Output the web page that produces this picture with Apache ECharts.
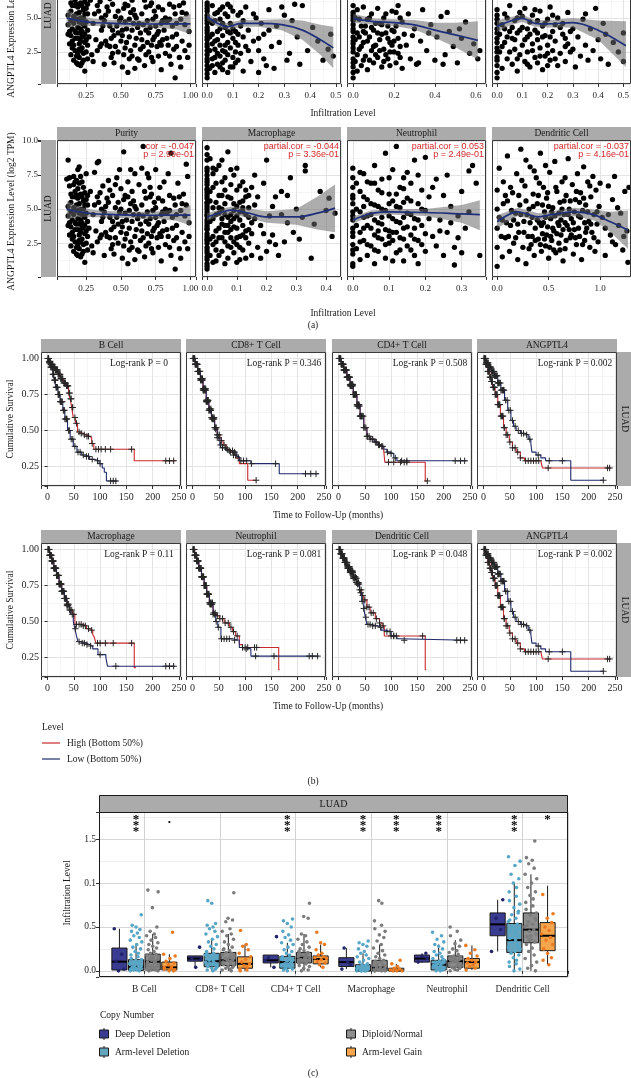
<!DOCTYPE html>
<html>
<head>
<meta charset="utf-8">
<script src="https://cdn.jsdelivr.net/npm/echarts@6.0.0/dist/echarts.min.js"></script>
<style>
html, body { margin: 0; padding: 0; background: #fff; }
#chart { width: 631px; height: 1078px; }
</style>
</head>
<body>
<div id="chart"></div>
<script>
const SERIF = "'Liberation Serif','DejaVu Serif',serif"
const SANS = "'Liberation Sans','DejaVu Sans',sans-serif"

// ---------- (a) expression vs infiltration ----------
const purityPts = [
  [0.12,8.6],[0.13,7.3],[0.11,7.2],[0.14,6.1],[0.12,5.2],[0.13,4.0],[0.12,3.8],[0.14,2.3],[0.15,3.3],[0.16,4.6],
  [0.16,6.8],[0.17,5.9],[0.17,2.6],[0.18,1.7],[0.18,3.9],[0.18,4.9],[0.19,6.5],[0.19,7.9],[0.2,8.1],[0.2,5.4],
  [0.2,3.1],[0.2,2.1],[0.21,1.5],[0.21,4.2],[0.21,6.1],[0.22,7.0],[0.22,3.6],[0.22,2.8],[0.23,5.0],[0.23,1.9],
  [0.23,6.6],[0.24,1.1],[0.24,4.4],[0.24,3.2],[0.25,5.7],[0.25,7.6],[0.25,2.5],[0.26,4.1],[0.26,6.0],[0.26,3.0],
  [0.14,5.5],[0.15,4.2],[0.16,3.0],[0.17,4.0],[0.18,5.3],[0.19,3.5],[0.19,2.4],[0.2,4.7],[0.21,3.3],[0.22,5.9],
  [0.23,4.6],[0.24,5.3],[0.17,6.3],[0.18,7.1],[0.2,6.9],[0.21,2.6],[0.22,4.0],[0.16,1.9],[0.19,1.6],[0.23,3.7],
  [0.28,6.3],[0.29,2.3],[0.3,4.6],[0.31,7.7],[0.32,3.4],[0.33,8.4],[0.34,8.5],[0.34,5.5],[0.35,2.9],[0.36,4.1],
  [0.37,6.7],[0.38,1.6],[0.39,5.2],[0.4,3.0],[0.41,7.1],[0.42,4.4],[0.43,2.1],[0.44,6.0],[0.45,3.7],[0.46,5.1],
  [0.47,7.3],[0.48,2.5],[0.49,4.8],[0.5,6.5],[0.5,3.3],[0.51,1.4],[0.52,9.2],[0.52,5.7],[0.53,2.8],[0.54,4.2],
  [0.55,1.0],[0.55,7.0],[0.56,3.6],[0.57,5.4],[0.58,2.2],[0.58,6.3],[0.59,4.6],[0.6,1.3],[0.6,7.6],[0.6,3.0],
  [0.3,1.8],[0.33,5.9],[0.36,3.1],[0.4,5.8],[0.43,3.5],[0.45,1.7],[0.47,4.4],[0.49,7.9],[0.51,4.1],[0.53,6.0],
  [0.56,4.9],[0.57,2.6],[0.38,4.8],[0.42,6.4],[0.46,2.9],[0.54,3.2],[0.48,5.5],[0.35,6.2],[0.59,5.6],[0.44,2.4],
  [0.61,5.0],[0.62,2.0],[0.63,6.8],[0.64,3.9],[0.65,8.0],[0.66,9.6],[0.66,4.5],[0.67,1.5],[0.68,5.8],[0.69,3.2],
  [0.7,7.3],[0.7,2.5],[0.71,4.3],[0.72,6.1],[0.73,1.8],[0.74,3.6],[0.75,7.9],[0.75,5.1],[0.76,2.9],[0.77,4.0],
  [0.78,6.6],[0.79,1.2],[0.8,3.4],[0.8,5.6],[0.81,7.0],[0.82,2.4],[0.83,4.7],[0.84,3.0],[0.85,6.0],[0.86,9.1],
  [0.86,1.6],[0.87,4.4],[0.88,2.7],[0.89,0.6],[0.89,5.3],[0.9,3.8],[0.91,6.9],[0.92,2.1],[0.93,1.4],[0.93,4.9],
  [0.94,3.3],[0.95,6.1],[0.96,2.6],[0.97,8.3],[0.97,5.3],[0.98,7.4],[0.98,2.1],[0.99,4.0],[0.99,3.0],[0.96,4.5],
  [0.62,4.3],[0.64,2.7],[0.67,6.3],[0.69,4.8],[0.72,3.0],[0.74,5.5],[0.77,2.2],[0.79,4.6],[0.82,5.0],[0.84,7.6],
  [0.87,3.6],[0.9,4.6],[0.92,5.9],[0.65,3.4],[0.71,5.9],[0.76,3.8],[0.81,4.1],[0.68,2.3],[0.73,4.9],[0.78,3.2],
  [0.13,6.7],[0.14,4.8],[0.15,5.9],[0.15,2.8],[0.16,7.4],[0.16,5.1],[0.17,3.5],[0.17,7.0],[0.18,2.2],[0.18,6.0],
  [0.19,4.3],[0.19,5.8],[0.2,2.7],[0.2,3.9],[0.21,5.0],[0.21,7.4],[0.22,1.7],[0.22,4.6],[0.23,2.4],[0.23,5.6],
  [0.24,3.8],[0.24,6.2],[0.25,4.7],[0.25,3.4],[0.26,5.3],[0.26,2.0],[0.12,4.5],[0.13,3.1],[0.14,3.7],[0.27,3.6],
  [0.31,5.3],[0.33,2.6],[0.37,4.4],[0.39,3.3],[0.41,5.5],[0.44,4.1],[0.46,6.8],[0.48,3.9],[0.5,5.0],[0.52,2.3],
  [0.53,4.7],[0.55,5.9],[0.56,2.0],[0.58,4.1],[0.6,5.2],[0.61,3.5],[0.63,4.6],[0.65,5.3],[0.66,2.9],[0.68,4.1],
  [0.7,3.9],[0.71,6.6],[0.73,3.4],[0.75,4.4],[0.77,5.8],[0.79,3.0],[0.8,4.8],[0.83,3.5],[0.85,4.9],[0.88,5.8],
  [0.9,2.9],[0.94,5.4],[0.63,1.9],[0.72,2.1],[0.51,3.7],[0.42,2.9],[0.36,5.0],[0.69,7.6],[0.57,7.9],[0.85,2.2]
]
const bCellPts = [
  [0,0.6],[0,1.2],[0,1.8],[0,2.3],[0,2.9],[0,3.4],[0,3.9],[0,4.3],[0,4.8],[0,5.2],[0,5.7],[0,6.1],[0,1.5],[0,2.6],
  [0,3.1],[0,4.1],[0,5.0],[0,5.5],[0.01,1.3],[0.01,3.6],[0.02,2.0],[0.02,4.6],[0.02,5.9],[0.03,1.0],[0.03,2.7],
  [0.03,3.3],[0.04,4.0],[0.04,5.4],[0.04,1.6],[0.05,2.2],[0.05,3.0],[0.05,4.9],[0.06,1.2],[0.06,3.7],[0.06,5.8],
  [0.07,2.5],[0.07,4.3],[0.07,1.9],[0.08,3.2],[0.08,5.1],[0.08,6.0],[0.09,1.4],[0.09,2.8],[0.09,4.6],[0.1,3.5],
  [0.1,5.5],[0.1,2.1],[0.11,4.0],[0.11,1.7],[0.12,3.0],[0.12,5.2],[0.13,2.4],[0.13,4.4],[0.14,3.6],[0.14,1.1],
  [0.15,5.8],[0.15,2.9],[0.03,4.8],[0.05,5.6],[0.06,2.6],[0.08,1.0],[0.1,4.2],[0.12,3.8],[0.02,3.1],[0.04,2.4],
  [0.07,5.3],[0.09,3.9],[0.11,2.5],[0.16,4.1],[0.17,1.8],[0.18,3.3],[0.19,5.0],[0.2,1.0],[0.2,2.6],[0.21,4.6],
  [0.22,3.8],[0.23,1.5],[0.24,5.6],[0.25,2.9],[0.26,1.3],[0.27,4.4],[0.28,3.2],[0.3,5.2],[0.31,1.9],[0.32,2.4],
  [0.33,4.8],[0.35,3.6],[0.36,1.6],[0.37,5.9],[0.39,2.6],[0.41,4.3],[0.43,3.3],[0.45,1.9],[0.47,2.7],[0.48,3.8],
  [0.49,2.2],[0.29,5.8],[0.34,6.0],
  [0,0.9],[0,2.0],[0,3.6],[0,4.6],[0,5.9],[0.01,2.6],[0.01,4.8],[0.02,1.5],[0.02,3.8],[0.03,5.3],[0.04,3.4],
  [0.05,4.2],[0.05,1.4],[0.06,4.6],[0.07,3.0],[0.08,2.3],[0.08,4.0],[0.09,5.8],[0.1,1.4],[0.11,3.2],[0.12,1.9],
  [0.13,5.4],[0.14,4.8],[0.16,2.6],[0.18,5.3],[0.2,3.5],[0.22,2.0],[0.24,4.1],[0.03,2.1],[0.06,1.7]
]
const cd8Pts = [
  [0,0.6],[0,1.4],[0,2.0],[0,2.5],[0,3.1],[0,3.6],[0,4.0],[0,4.5],[0,5.0],[0,5.4],[0,5.9],[0,1.0],[0,3.3],[0,4.8],
  [0.01,1.8],[0.02,3.9],[0.02,5.6],[0.03,2.7],[0.04,1.5],[0.04,4.4],[0.05,3.2],[0.05,5.8],[0.06,2.2],[0.07,4.9],
  [0.07,1.2],[0.08,3.6],[0.09,2.6],[0.09,5.3],[0.1,4.1],[0.1,1.7],[0.11,3.0],[0.12,5.7],[0.12,2.1],[0.13,4.6],
  [0.13,3.4],[0.14,1.4],[0.15,2.7],[0.15,5.0],[0.16,3.9],[0.17,2.0],[0.17,4.4],[0.18,1.5],[0.18,3.2],[0.19,5.5],
  [0.2,2.5],[0.2,4.0],[0.21,1.7],[0.22,3.5],[0.22,5.9],[0.23,2.9],[0.24,4.7],[0.24,1.3],[0.25,3.8],[0.03,4.9],
  [0.06,3.9],[0.08,5.0],[0.11,4.6],[0.14,3.8],[0.16,2.3],[0.19,3.0],[0.21,4.4],[0.23,2.1],[0.05,1.9],[0.1,2.9],
  [0.27,5.3],[0.28,2.0],[0.3,4.2],[0.31,1.6],[0.33,3.3],[0.34,5.6],[0.36,2.6],[0.38,4.5],[0.4,1.9],[0.41,3.6],
  [0.43,5.1],[0.45,2.3],[0.47,4.0],[0.49,2.9],[0.51,1.7],[0.53,3.5],[0.55,4.7],[0.57,2.4],[0.59,3.1],[0.61,2.0],
  [0.62,2.6],[0.32,1.7],[0.37,3.9],[0.44,1.6],[0.46,5.4],[0.52,4.2],
  [0,1.7],[0,2.8],[0,4.2],[0,5.2],[0.01,3.4],[0.01,5.0],[0.02,2.3],[0.03,3.6],[0.04,2.9],[0.06,4.4],[0.07,3.3],
  [0.08,1.9],[0.09,4.3],[0.11,2.3],[0.12,3.9],[0.14,4.5],[0.15,1.8],[0.16,5.3],[0.18,2.5],[0.19,4.1],[0.2,3.3],
  [0.22,2.4],[0.23,5.0],[0.26,3.0],[0.29,3.7],[0.02,1.1],[0.05,4.0],[0.13,2.6],[0.17,3.5],[0.21,5.4]
]
const cd4Pts = [
  [0,0.6],[0,1.5],[0,2.1],[0,2.8],[0,3.5],[0,4.2],[0,4.9],[0,5.6],[0,1.9],[0,3.9],
  [0.01,2.5],[0.02,4.5],[0.02,1.3],[0.03,3.2],[0.03,5.3],[0.04,2.0],[0.05,4.0],[0.05,5.9],[0.06,1.6],[0.06,3.5],
  [0.07,2.7],[0.07,4.8],[0.08,1.1],[0.08,3.9],[0.09,5.4],[0.09,2.3],[0.1,4.3],[0.1,3.0],[0.11,1.8],[0.11,5.7],
  [0.12,3.6],[0.12,2.5],[0.13,4.7],[0.13,1.4],[0.14,3.1],[0.14,5.2],[0.15,2.1],[0.15,4.1],[0.16,3.4],[0.16,1.7],
  [0.17,5.5],[0.17,2.8],[0.18,4.4],[0.18,1.2],[0.19,3.7],[0.19,2.2],[0.2,4.9],[0.2,3.0],[0.21,1.9],[0.21,5.8],
  [0.22,2.6],[0.22,4.0],[0.23,3.3],[0.24,1.5],[0.24,5.0],[0.25,2.4],[0.26,3.8],[0.26,4.6],[0.27,1.8],[0.28,3.1],
  [0.28,5.4],[0.29,2.5],[0.3,4.2],[0.04,3.6],[0.08,5.0],[0.12,4.2],[0.16,4.8],[0.2,1.5],[0.23,4.5],[0.27,2.9],
  [0.31,1.4],[0.32,3.6],[0.33,2.2],[0.34,4.9],[0.35,3.0],[0.36,1.9],[0.37,4.2],[0.38,2.6],[0.39,5.7],[0.4,3.4],
  [0.41,2.0],[0.42,4.6],[0.44,1.6],[0.46,3.2],[0.48,2.5],[0.5,3.9],[0.5,1.8],[0.35,5.3],[0.43,3.8],
  [0,1.0],[0,2.5],[0,3.2],[0,4.6],[0,5.2],[0.01,3.8],[0.02,2.9],[0.03,4.2],[0.04,5.0],[0.05,2.5],[0.06,4.3],
  [0.07,3.4],[0.08,2.0],[0.09,4.1],[0.1,5.1],[0.11,3.4],[0.12,1.6],[0.13,3.8],[0.14,2.6],[0.15,5.6],[0.16,3.9],
  [0.17,2.2],[0.18,3.6],[0.19,4.6],[0.2,2.4],[0.21,3.6],[0.22,5.2],[0.23,2.0],[0.25,4.3],[0.27,3.5],[0.29,4.0],[0.3,2.7]
]
const macroPts = [
  [0,0.6],[0,1.0],[0,1.5],[0,2.0],[0,2.5],[0,3.0],[0,3.5],[0,4.0],[0,4.5],[0,5.0],[0,5.5],[0,6.0],[0,6.5],[0,7.0],
  [0,7.5],[0,8.0],[0,8.6],[0,9.5],[0,1.3],[0,2.8],[0,3.8],[0,4.8],[0,5.8],[0,6.8],[0,7.8],[0,2.2],[0,3.2],[0,4.2],
  [0,5.2],[0,6.2],
  [0.01,1.6],[0.01,4.1],[0.01,6.3],[0.02,2.4],[0.02,5.1],[0.02,7.6],[0.03,1.2],[0.03,3.4],[0.03,6.9],[0.04,2.9],
  [0.04,4.7],[0.04,8.2],[0.05,1.9],[0.05,3.9],[0.05,6.0],[0.06,2.6],[0.06,5.4],[0.06,7.3],[0.07,1.4],[0.07,3.3],
  [0.07,4.4],[0.07,9.2],[0.08,2.2],[0.08,5.8],[0.08,6.8],[0.09,3.7],[0.09,1.8],[0.09,4.9],[0.1,2.9],[0.1,6.4],
  [0.1,8.0],[0.11,1.3],[0.11,4.2],[0.11,5.5],[0.12,3.1],[0.12,2.0],[0.12,7.0],[0.13,4.6],[0.13,1.4],[0.13,5.9],
  [0.14,3.5],[0.14,2.5],[0.15,6.6],[0.15,4.0],[0.02,3.0],[0.03,5.5],[0.05,4.3],[0.06,1.0],[0.08,3.5],[0.09,7.5],
  [0.1,1.1],[0.11,3.0],[0.12,4.8],[0.04,6.0],[0.06,3.8],[0.07,5.9],[0.09,2.6],[0.13,2.9],[0.14,6.0],[0.15,1.6],
  [0.01,8.7],[0.03,7.9],[0.05,8.6],[0.08,4.1],[0.1,4.5],[0.12,5.1],[0.14,4.4],[0.02,1.1],[0.04,3.6],[0.11,6.7],
  [0.16,5.3],[0.17,2.2],[0.18,3.8],[0.19,6.9],[0.2,8.6],[0.2,1.9],[0.21,4.5],[0.22,3.1],[0.23,5.9],[0.24,1.6],
  [0.25,6.3],[0.26,2.6],[0.27,4.0],[0.28,7.3],[0.29,3.3],[0.3,5.0],[0.31,2.8],[0.32,4.4],[0.33,8.2],[0.33,7.8],
  [0.35,1.4],[0.36,3.9],[0.38,6.3],[0.4,4.9],[0.42,3.0],[0.43,4.7],[0.41,5.8],[0.18,1.4],[0.23,2.4],[0.27,6.0],
  [0,9.0],[0,0.8],[0,1.8],[0,2.7],[0,3.6],[0,4.6],[0,5.4],[0,6.4],[0,7.2],[0.01,2.8],[0.01,5.6],[0.02,4.3],
  [0.02,6.6],[0.03,2.0],[0.03,4.6],[0.04,5.1],[0.04,1.6],[0.05,2.9],[0.05,5.0],[0.06,4.6],[0.06,6.4],[0.07,2.3],
  [0.07,3.8],[0.08,4.6],[0.08,2.9],[0.09,5.4],[0.09,4.3],[0.1,3.6],[0.1,5.2],[0.11,2.2],[0.11,4.8],[0.12,3.8],
  [0.12,5.6],[0.13,3.4],[0.14,5.1],[0.15,3.2],[0.16,4.3],[0.17,5.9],[0.19,3.2],[0.21,2.6],[0.22,5.2],[0.25,4.6],
  [0.02,8.0],[0.05,7.0],[0.08,7.9],[0.03,2.6],[0.06,3.3],[0.1,2.4],[0.13,6.4],[0.16,7.5]
]
const neutroPts = [
  [0,1.0],[0,1.7],[0,2.4],[0,3.0],[0,3.6],[0,4.2],[0,4.8],[0,5.4],[0,6.0],[0,6.6],[0,7.3],[0,8.0],[0,0.8],
  [0.01,2.1],[0.01,5.0],[0.02,3.3],[0.02,6.3],[0.02,1.3],[0.03,4.4],[0.03,7.6],[0.03,2.7],[0.04,5.7],[0.04,3.8],
  [0.04,1.6],[0.05,6.9],[0.05,2.3],[0.05,4.6],[0.06,3.1],[0.06,8.2],[0.06,5.3],[0.07,1.9],[0.07,4.0],[0.07,6.4],
  [0.08,2.8],[0.08,5.0],[0.08,7.2],[0.09,3.5],[0.09,1.4],[0.09,9.1],[0.1,4.5],[0.1,6.1],[0.1,2.5],[0.11,3.3],
  [0.11,5.6],[0.11,7.9],[0.12,1.8],[0.12,4.1],[0.12,9.6],[0.13,2.9],[0.13,6.6],[0.13,5.1],[0.14,3.6],[0.14,1.2],
  [0.14,7.3],[0.15,4.7],[0.15,2.3],[0.15,5.8],[0.16,3.1],[0.16,6.9],[0.17,1.6],[0.17,4.3],[0.17,8.6],[0.18,2.7],
  [0.18,5.4],[0.19,3.8],[0.19,6.4],[0.2,1.9],[0.2,4.9],[0.2,8.8],[0.02,4.8],[0.04,7.0],[0.06,1.0],[0.08,3.9],
  [0.1,3.4],[0.12,5.2],[0.14,4.4],[0.16,2.0],[0.18,7.5],[0.03,5.9],[0.07,2.9],[0.11,1.2],[0.15,7.7],[0.19,2.4],
  [0.21,5.9],[0.22,3.0],[0.23,7.2],[0.24,4.2],[0.25,1.6],[0.25,6.0],[0.26,3.3],[0.27,5.2],[0.28,2.2],[0.28,0.9],
  [0.29,4.5],[0.3,6.3],[0.31,3.6],[0.32,7.8],[0.33,8.2],[0.34,6.9],[0.35,1.6],[0.3,1.8],[0.26,7.5],[0.23,2.3],
  [0,2.0],[0,4.5],[0,5.8],[0,3.3],[0.01,3.8],[0.01,6.9],[0.02,2.6],[0.03,3.6],[0.03,5.2],[0.04,4.5],[0.04,2.4],
  [0.05,3.6],[0.05,5.4],[0.06,4.2],[0.06,2.0],[0.07,5.2],[0.07,3.4],[0.08,4.4],[0.08,6.2],[0.09,2.4],[0.09,4.9],
  [0.1,5.4],[0.1,3.0],[0.11,4.3],[0.11,2.7],[0.12,3.3],[0.12,6.1],[0.13,4.0],[0.13,2.0],[0.14,5.5],[0.14,2.8],
  [0.15,3.7],[0.16,4.6],[0.16,5.6],[0.17,2.8],[0.17,3.6],[0.18,4.2],[0.19,5.0],[0.2,3.2],[0.21,4.3],[0.22,6.6],
  [0.24,3.4],[0.27,4.0],[0.29,2.9],[0.32,4.8],[0.06,6.9],[0.1,7.3],[0.14,6.5],[0.02,7.7],[0.18,1.0]
]
const dcPts = [
  [0,0.8],[0,2.2],[0,3.6],[0,5.0],[0,6.4],[0.02,8.0],
  [0.05,1.5],[0.05,4.2],[0.06,7.0],[0.08,2.9],[0.1,5.6],[0.1,8.9],[0.12,1.9],[0.13,3.8],[0.15,6.2],[0.16,2.5],
  [0.18,4.7],[0.19,7.6],[0.2,1.3],[0.21,3.3],[0.22,5.3],[0.23,9.4],[0.25,2.2],[0.26,4.1],[0.27,6.7],[0.28,1.0],
  [0.3,3.0],[0.31,5.0],[0.32,8.1],[0.33,2.4],[0.34,4.4],[0.35,6.1],[0.36,1.6],[0.37,3.6],[0.38,7.3],[0.39,5.4],
  [0.4,2.8],[0.41,4.0],[0.42,9.1],[0.43,1.9],[0.44,3.2],[0.45,6.6],[0.46,4.8],[0.47,2.3],[0.48,5.8],[0.49,3.7],
  [0.5,1.4],[0.51,7.7],[0.52,4.3],[0.53,2.7],[0.54,5.1],[0.55,3.4],[0.56,8.5],[0.57,1.8],[0.58,6.3],[0.59,4.0],
  [0.6,2.5],[0.61,5.5],[0.62,3.1],[0.63,7.0],[0.64,1.2],[0.65,4.6],[0.66,2.1],[0.67,6.0],[0.68,3.8],[0.69,8.7],
  [0.7,5.0],[0.71,2.9],[0.72,4.3],[0.73,6.8],[0.74,1.7],[0.75,3.5],[0.76,5.7],[0.77,2.4],[0.78,7.6],[0.79,4.5],
  [0.8,3.0],[0.81,6.2],[0.82,1.3],[0.83,4.9],[0.84,8.1],[0.85,2.7],[0.86,5.3],[0.87,3.6],[0.88,7.0],[0.89,4.1],
  [0.9,2.2],[0.91,5.9],[0.92,3.3],[0.93,7.4],[0.94,4.6],[0.95,1.9],[0.96,6.4],[0.97,3.9],[0.98,2.6],[0.99,5.2],
  [0.08,6.0],[0.14,4.9],[0.2,3.9],[0.24,7.1],[0.29,4.6],[0.34,3.0],[0.4,6.0],[0.45,4.0],[0.5,5.2],[0.55,2.0],
  [0.6,4.7],[0.65,5.6],[0.7,3.5],[0.75,4.8],[0.8,5.5],[0.85,4.0],[0.9,6.7],[0.42,2.4],[0.52,3.0],[0.62,4.2],
  [1.02,4.4],[1.05,1.6],[1.08,6.7],[1.1,3.1],[1.12,5.7],[1.15,2.4],[1.18,3.8],[1.2,4.7],[1.22,2.0],[1.24,6.3],
  [1.26,3.4],[1.28,6.6],[1.27,1.1],[1.12,2.6],[1.05,3.6],[1.17,5.1],[1.23,3.0],[1.0,6.9],[1.08,4.6],[1.14,7.4],
  [0.02,4.4],[0.04,3.0],[0.06,5.4],[0.09,4.0],[0.11,3.0],[0.13,6.6],[0.16,4.2],[0.18,2.9],[0.21,6.0],[0.23,4.6],
  [0.26,3.3],[0.28,5.6],[0.31,2.1],[0.32,4.0],[0.35,5.2],[0.37,2.7],[0.39,4.2],[0.41,6.9],[0.43,3.8],[0.44,5.3],
  [0.46,2.8],[0.47,4.4],[0.48,3.1],[0.49,6.2],[0.51,2.2],[0.53,4.8],[0.54,3.6],[0.56,4.5],[0.57,6.6],[0.58,3.2],
  [0.6,3.8],[0.61,2.0],[0.63,5.0],[0.64,3.5],[0.66,4.0],[0.67,2.7],[0.69,4.6],[0.71,5.6],[0.72,3.1],[0.74,4.0],
  [0.76,2.9],[0.77,6.3],[0.79,3.6],[0.81,4.4],[0.83,2.4],[0.84,5.8],[0.86,3.3],[0.88,4.8],[0.91,3.9],[0.94,2.9],
  [0.97,4.8],[0.36,7.8],[0.47,8.2],[0.66,7.3],[0.28,8.6]
]
// loess fits: [x, fit, lower, upper]
const purityFit = [[0.11,4.98,4.25,5.6],[0.2,4.8,4.42,5.18],[0.3,4.66,4.4,4.93],[0.45,4.6,4.36,4.84],[0.6,4.56,4.32,4.8],[0.75,4.55,4.3,4.82],[0.9,4.56,4.15,4.97],[1.0,4.56,3.8,5.3]]
const bCellFit = [[0.0,5.1,4.8,5.4],[0.04,4.6,4.35,4.85],[0.08,4.35,4.1,4.6],[0.13,4.6,4.35,4.85],[0.2,4.6,4.35,4.85],[0.29,4.5,4.1,4.9],[0.37,4.1,3.4,4.8],[0.44,3.4,2.3,4.5],[0.49,2.8,1.3,4.35]]
const cd8Fit = [[0.0,4.97,4.65,5.3],[0.1,4.73,4.5,4.95],[0.2,4.65,4.4,4.9],[0.3,4.49,4.15,4.85],[0.4,4.1,3.55,4.65],[0.5,3.75,2.85,4.65],[0.61,3.35,1.95,4.75]]
const cd4Fit = [[0.0,4.36,3.95,4.8],[0.05,4.75,4.45,5.05],[0.1,4.97,4.7,5.25],[0.15,4.6,4.35,4.85],[0.2,4.56,4.3,4.82],[0.3,4.65,4.3,5.0],[0.4,4.1,3.4,4.8],[0.51,2.95,1.4,4.75]]
const macroFit = [[0.0,4.43,4.15,4.7],[0.04,4.7,4.45,4.95],[0.08,4.93,4.65,5.2],[0.14,4.7,4.35,5.05],[0.2,4.43,4.0,4.85],[0.3,4.43,3.85,5.0],[0.37,4.7,3.5,5.9],[0.43,5.07,3.3,6.8]]
const neutroFit = [[0.0,4.19,3.95,4.45],[0.05,4.68,4.45,4.9],[0.1,4.8,4.6,5.0],[0.2,4.75,4.5,5.0],[0.3,4.65,4.0,5.3],[0.35,4.6,3.45,5.65]]
const dcFit = [[0.0,4.07,3.6,4.55],[0.2,4.8,4.5,5.1],[0.4,4.43,4.15,4.7],[0.5,4.56,4.3,4.8],[0.75,4.8,4.5,5.1],[0.95,4.56,4.15,4.95],[1.1,4.07,3.3,4.8],[1.27,3.46,2.1,4.9]]
const scatterTitles = ['Purity', 'Macrophage', 'Neutrophil', 'Dendritic Cell']
const corLines = [
  ['cor = -0.047', 'p = 2.99e-01'],
  ['partial.cor = -0.044', 'p = 3.36e-01'],
  ['partial.cor = 0.053', 'p = 2.49e-01'],
  ['partial.cor = -0.037', 'p = 4.16e-01']
]

// ---------- (b) Kaplan-Meier ----------
const bHigh = [[0,1],[3,0.98],[6,0.96],[10,0.94],[15,0.92],[20,0.89],[25,0.86],[30,0.83],[35,0.81],[40,0.76],[43,0.72],[46,0.66],[49,0.59],[53,0.55],[57,0.49],[62,0.48],[67,0.47],[74,0.46],[80,0.45],[84,0.41],[88,0.37],[165,0.29],[244,0.29]]
const bLow = [[0,1],[3,0.97],[6,0.94],[10,0.89],[13,0.85],[16,0.8],[20,0.75],[24,0.7],[29,0.64],[33,0.58],[38,0.5],[43,0.44],[49,0.39],[56,0.35],[65,0.33],[73,0.32],[80,0.3],[89,0.29],[98,0.27],[104,0.24],[108,0.21],[112,0.15],[133,0.15]]
const cd8High = [[0,1],[5,0.96],[10,0.91],[15,0.86],[20,0.79],[26,0.71],[31,0.65],[36,0.59],[42,0.52],[47,0.47],[52,0.43],[58,0.4],[64,0.37],[72,0.35],[78,0.33],[83,0.31],[89,0.27],[105,0.155],[121,0.155]]
const cd8Low = [[0,1],[5,0.96],[10,0.91],[15,0.85],[20,0.78],[26,0.7],[31,0.64],[36,0.58],[42,0.51],[47,0.45],[52,0.4],[55,0.38],[65,0.36],[77,0.35],[84,0.32],[89,0.29],[111,0.27],[165,0.2],[240,0.2]]
const cd4High = [[0,1],[5,0.96],[10,0.92],[16,0.87],[22,0.82],[28,0.75],[35,0.68],[41,0.6],[48,0.52],[54,0.46],[60,0.44],[68,0.42],[75,0.4],[80,0.39],[86,0.36],[88,0.28],[165,0.15],[169,0.15]]
const cd4Low = [[0,1],[5,0.96],[10,0.92],[16,0.87],[22,0.81],[28,0.75],[35,0.67],[41,0.6],[48,0.52],[54,0.46],[60,0.44],[68,0.42],[75,0.4],[80,0.39],[86,0.37],[92,0.35],[99,0.34],[105,0.31],[111,0.29],[245,0.29]]
const angHigh = [[0,1],[4,0.96],[8,0.91],[12,0.87],[15,0.84],[18,0.8],[22,0.75],[27,0.68],[32,0.6],[38,0.52],[43,0.47],[49,0.42],[55,0.38],[62,0.35],[70,0.31],[78,0.29],[109,0.28],[112,0.24],[242,0.24]]
const angLow = [[0,1],[5,0.97],[10,0.94],[15,0.91],[21,0.88],[27,0.83],[33,0.78],[40,0.71],[46,0.64],[52,0.57],[57,0.53],[62,0.5],[70,0.48],[78,0.47],[85,0.44],[90,0.41],[92,0.35],[100,0.33],[109,0.31],[118,0.29],[166,0.155],[228,0.155]]
const macroHigh = [[0,1],[4,0.96],[8,0.92],[12,0.87],[17,0.82],[22,0.76],[27,0.71],[32,0.66],[37,0.62],[42,0.58],[48,0.55],[52,0.48],[67,0.47],[74,0.45],[80,0.44],[86,0.41],[89,0.39],[92,0.35],[165,0.18],[168,0.18]]
const macroLow = [[0,1],[4,0.96],[8,0.92],[12,0.87],[17,0.82],[22,0.76],[27,0.71],[32,0.66],[37,0.61],[42,0.58],[45,0.55],[49,0.5],[52,0.45],[55,0.4],[58,0.36],[66,0.35],[74,0.34],[80,0.33],[86,0.31],[96,0.27],[111,0.25],[114,0.19],[243,0.19]]
const neutroHigh = [[0,1],[4,0.96],[8,0.92],[12,0.87],[17,0.81],[22,0.75],[27,0.69],[32,0.63],[39,0.56],[45,0.54],[51,0.52],[60,0.49],[70,0.46],[76,0.43],[82,0.4],[89,0.34],[95,0.32],[164,0.165],[166,0.165]]
const neutroLow = [[0,1],[4,0.96],[8,0.92],[12,0.87],[17,0.81],[22,0.75],[27,0.69],[32,0.62],[39,0.55],[44,0.5],[48,0.46],[54,0.38],[76,0.37],[89,0.32],[101,0.31],[111,0.26],[240,0.26]]
const dcHigh = [[0,1],[4,0.97],[8,0.94],[12,0.91],[17,0.88],[22,0.85],[28,0.81],[34,0.77],[40,0.72],[44,0.68],[48,0.65],[54,0.6],[60,0.56],[70,0.52],[78,0.49],[83,0.47],[87,0.4],[165,0.165],[167,0.165]]
const dcLow = [[0,1],[4,0.97],[8,0.94],[12,0.91],[17,0.87],[22,0.84],[28,0.8],[35,0.76],[40,0.7],[44,0.64],[48,0.59],[51,0.53],[54,0.48],[62,0.47],[73,0.46],[81,0.44],[89,0.43],[100,0.4],[111,0.38],[116,0.37],[245,0.37]]
// censoring times (months)
const bHighCens = [1,2,3,4,5,6,7,8,9,10,11,12,13,14,15,16,17,18,19,20,21,22,23,24,25,26,27,28,29,31,32,33,34,36,37,38,39,41,42,44,45,47,48,52,55,60,64,70,75,78,85,92,97,102,110,120,160,225,232,240]
const bLowCens = [1,2,3,4,5,6,7,8,9,10,11,12,13,14,15,16,17,18,19,20,21,22,23,24,25,26,27,28,30,31,32,33,35,36,37,40,42,45,48,52,58,62,68,74,78,85,95,100,120,125,130]
const cd8HighCens = [1,2,3,4,5,6,7,8,9,10,11,12,13,14,15,16,17,18,19,20,21,22,23,24,25,26,27,28,29,30,32,33,35,36,38,39,41,42,44,45,47,48,51,55,60,66,72,78,82,87,121]
const cd8LowCens = [1,2,3,4,5,6,7,8,9,10,11,12,13,14,15,16,17,18,19,20,21,22,23,24,25,26,27,28,29,31,32,34,35,37,38,40,41,44,47,50,53,57,63,70,76,80,92,97,103,112,158,215,225,235]
const cd4HighCens = [1,2,3,4,5,6,7,8,9,10,11,12,13,14,15,16,17,18,19,20,21,22,23,24,25,26,27,28,29,30,32,33,35,36,38,39,41,42,44,45,48,52,55,60,65,70,76,82,95,105,118,125,130,169]
const cd4LowCens = [1,2,3,4,5,6,7,8,9,10,11,12,13,14,15,16,17,18,19,20,21,22,23,24,25,26,27,28,29,31,32,34,35,37,38,40,41,44,47,50,54,58,64,72,78,84,93,100,108,120,130,222,232,240]
const angHighCens = [1,2,3,4,5,6,7,8,9,10,11,12,13,14,15,16,17,18,19,20,21,22,23,24,25,26,27,28,29,30,31,33,34,36,37,39,40,43,46,50,55,60,65,70,80,85,90,95,100,105,123,236,240]
const angLowCens = [1,2,3,4,5,6,7,8,9,10,11,12,13,14,15,16,17,18,19,20,21,22,23,24,25,26,27,28,29,30,32,33,35,36,38,39,42,45,48,51,55,60,66,72,76,82,88,104,125,150,228]
const macroHighCens = [1,2,3,4,5,6,7,8,9,10,11,12,13,14,15,16,17,18,19,20,21,22,23,24,25,26,27,28,29,31,32,34,35,37,38,40,43,46,50,55,60,64,68,72,78,84,95,100,110,125,160]
const macroLowCens = [1,2,3,4,5,6,7,8,9,10,11,12,13,14,15,16,17,18,19,20,21,22,23,24,25,26,27,28,30,31,33,34,36,37,39,42,47,53,60,66,70,75,82,100,130,225,232,240]
const neutroHighCens = [1,2,3,4,5,6,7,8,9,10,11,12,13,14,15,16,17,18,19,20,21,22,23,24,25,26,27,28,29,31,32,34,35,37,38,40,43,47,52,57,62,68,73,78,85,100,105,118,122]
const neutroLowCens = [1,2,3,4,5,6,7,8,9,10,11,12,13,14,15,16,17,18,19,20,21,22,23,24,25,26,27,28,30,31,33,34,36,37,39,42,45,49,55,60,65,70,80,95,102,120,155,222,228,238]
const dcHighCens = [1,2,3,4,5,6,7,8,9,10,11,12,13,14,15,16,17,18,19,20,21,22,23,24,25,26,27,28,29,31,32,34,35,37,38,40,43,46,50,54,58,62,66,72,78,85,100,105,160]
const dcLowCens = [1,2,3,4,5,6,7,8,9,10,11,12,13,14,15,16,17,18,19,20,21,22,23,24,25,26,27,28,30,31,33,34,36,37,39,42,45,48,52,56,60,65,70,80,92,98,105,110,125,225,232,240]
const survTitles = ['B Cell', 'CD8+ T Cell', 'CD4+ T Cell', 'ANGPTL4', 'Macrophage', 'Neutrophil', 'Dendritic Cell', 'ANGPTL4']
const logRank = ['Log-rank P = 0', 'Log-rank P = 0.346', 'Log-rank P = 0.508', 'Log-rank P = 0.002',
  'Log-rank P = 0.11', 'Log-rank P = 0.081', 'Log-rank P = 0.048', 'Log-rank P = 0.002']
const levelNames = ['High (Bottom 50%)', 'Low (Bottom 50%)']

// ---------- (c) copy number boxplots ----------
const cellTypes = ['B Cell', 'CD8+ T Cell', 'CD4+ T Cell', 'Macrophage', 'Neutrophil', 'Dendritic Cell']
const cnvGroups = ['Deep Deletion', 'Arm-level Deletion', 'Diploid/Normal', 'Arm-level Gain']
// [min, q1, median, q3, max] per cell type
const deepDelBox = [[0.0,0.01,0.105,0.26,0.48],[0.04,0.11,0.14,0.17,0.17],[0.04,0.09,0.12,0.18,0.18],[0.02,0.05,0.1,0.15,0.26],[0.09,0.1,0.14,0.18,0.2],[0.22,0.4,0.53,0.66,0.81]]
const armDelBox = [[0.0,0.005,0.047,0.128,0.3],[0.0,0.047,0.11,0.2,0.36],[0.0,0.03,0.1,0.165,0.32],[0.0,0.0,0.005,0.07,0.2],[0.0,0.01,0.07,0.12,0.3],[0.0,0.21,0.35,0.54,1.0]]
const diploidBox = [[0.0,0.01,0.105,0.19,0.42],[0.0,0.06,0.12,0.21,0.42],[0.0,0.09,0.15,0.21,0.42],[0.0,0.0,0.04,0.12,0.3],[0.0,0.04,0.11,0.17,0.35],[0.0,0.32,0.47,0.66,1.1]]
const armGainBox = [[0.0,0.01,0.04,0.1,0.19],[0.0,0.03,0.08,0.16,0.3],[0.04,0.08,0.135,0.17,0.3],[0.0,0.0,0.005,0.03,0.08],[0.01,0.03,0.1,0.14,0.29],[0.07,0.23,0.4,0.55,0.97]]
// sample values per cell type
const deepDelVals = [[0.48,0.19,0.0,0.02,0.11],[0.27,0.14,0.04,0.13],[0.39,0.12,0.04,0.15],[0.26,0.1,0.02,0.07],[0.2,0.17,0.1,0.14],[0.81,0.6,0.47,0.22]]
const armDelVals = [
  [0.0,0.0,0.01,0.01,0.02,0.03,0.03,0.04,0.05,0.06,0.07,0.08,0.09,0.1,0.11,0.12,0.13,0.14,0.16,0.18,0.2,0.22,0.25,0.27,0.3,0.33,0.35,0.38,0.4,0.43,0.45,0.47,0.5,0.52,0.64,0.02,0.05,0.08],
  [0.0,0.01,0.02,0.03,0.05,0.06,0.08,0.09,0.1,0.11,0.12,0.14,0.15,0.17,0.19,0.2,0.22,0.25,0.28,0.3,0.33,0.36,0.39,0.42,0.45,0.48,0.5,0.52,0.54,0.77,0.8,0.04,0.13,0.07,0.18],
  [0.0,0.01,0.02,0.03,0.04,0.06,0.07,0.08,0.1,0.11,0.12,0.13,0.15,0.16,0.18,0.2,0.22,0.24,0.27,0.3,0.32,0.35,0.38,0.41,0.45,0.5,0.54,0.57,0.59,0.05,0.09,0.14],
  [0.0,0.0,0.0,0.0,0.01,0.01,0.02,0.02,0.03,0.04,0.05,0.06,0.07,0.08,0.1,0.12,0.14,0.16,0.18,0.2,0.22,0.25,0.28,0.3,0.32,0.34,0.0,0.01,0.03],
  [0.0,0.0,0.01,0.02,0.03,0.04,0.05,0.06,0.07,0.08,0.09,0.1,0.11,0.12,0.14,0.16,0.18,0.2,0.22,0.25,0.28,0.3,0.33,0.36,0.4,0.44,0.02,0.06,0.13],
  [0.0,0.02,0.05,0.08,0.1,0.12,0.15,0.18,0.2,0.22,0.25,0.27,0.3,0.32,0.35,0.37,0.4,0.42,0.45,0.48,0.5,0.53,0.56,0.6,0.64,0.68,0.72,0.76,0.8,0.85,0.9,0.95,1.0,1.05,1.1,1.2,1.25,1.3,0.28,0.38,0.46,0.58,0.66]
]
const diploidVals = [
  [0.0,0.0,0.01,0.01,0.02,0.03,0.04,0.05,0.06,0.07,0.08,0.09,0.1,0.11,0.12,0.13,0.14,0.15,0.16,0.18,0.19,0.2,0.22,0.24,0.26,0.28,0.3,0.32,0.35,0.38,0.4,0.42,0.45,0.5,0.72,0.9,0.92,0.03,0.06,0.1,0.17],
  [0.0,0.01,0.02,0.03,0.04,0.05,0.06,0.08,0.09,0.1,0.11,0.12,0.13,0.14,0.15,0.17,0.18,0.2,0.21,0.23,0.25,0.27,0.3,0.33,0.36,0.4,0.42,0.45,0.48,0.56,0.58,0.6,0.89,0.07,0.16,0.24],
  [0.0,0.01,0.03,0.05,0.06,0.08,0.09,0.1,0.11,0.12,0.13,0.14,0.15,0.16,0.17,0.18,0.19,0.2,0.21,0.23,0.25,0.27,0.3,0.33,0.36,0.4,0.42,0.6,0.62,0.77,0.12,0.15,0.22],
  [0.0,0.0,0.0,0.0,0.01,0.01,0.02,0.03,0.04,0.05,0.06,0.07,0.08,0.1,0.11,0.12,0.14,0.16,0.18,0.2,0.23,0.26,0.3,0.34,0.38,0.41,0.45,0.48,0.52,0.57,0.77,0.8,0.02,0.05],
  [0.0,0.01,0.02,0.03,0.04,0.05,0.06,0.08,0.09,0.1,0.11,0.12,0.13,0.14,0.15,0.16,0.17,0.19,0.21,0.23,0.25,0.28,0.31,0.35,0.4,0.45,0.5,0.07,0.12],
  [0.0,0.03,0.06,0.1,0.14,0.18,0.22,0.26,0.3,0.33,0.36,0.39,0.42,0.45,0.47,0.5,0.53,0.56,0.6,0.63,0.66,0.7,0.74,0.78,0.82,0.86,0.9,0.95,1.0,1.05,1.1,1.17,1.22,1.26,1.29,1.48,0.4,0.52,0.58,0.35]
]
const armGainVals = [
  [0.0,0.0,0.01,0.02,0.03,0.04,0.05,0.07,0.09,0.11,0.14,0.17,0.19,0.44],
  [0.0,0.01,0.02,0.04,0.06,0.08,0.1,0.13,0.16,0.2,0.24,0.28,0.3,0.46],
  [0.04,0.07,0.09,0.11,0.13,0.14,0.15,0.16,0.18,0.2,0.24,0.3,0.32,0.44],
  [0.0,0.0,0.0,0.01,0.02,0.03,0.05,0.08,0.12,0.01],
  [0.01,0.03,0.05,0.07,0.09,0.1,0.12,0.14,0.17,0.2,0.24,0.29],
  [0.07,0.12,0.15,0.2,0.25,0.3,0.35,0.38,0.42,0.46,0.5,0.55,0.6,0.65,0.87]
]
const sigMarks = [['', '***', '', '.'], ['', '', '', ''], ['', '***', '', ''], ['', '***', '', '***'], ['', '***', '', ''], ['', '***', '', '*']]
const boxYTicks = [0, 0.5, 1, 1.5]
const boxYLabels = ['0.0', '0.5', '0.1', '1.5']
// fixed jitter offsets (fraction of half box width)
const jitterDx = [-0.8,0.35,-0.15,0.7,-0.5,0.1,0.9,-0.9,0.5,-0.35,0.2,-0.7,0.6,0.0,-0.6,0.8,-0.25,0.45,-0.95,0.25,-0.4,0.65,-0.05,0.85,-0.75,0.3]

// ---------- layout ----------
const STRIP = '#ababab'
const BORDER = '#3a3a3a'
const RED = '#c9282d'
const NAVY = '#1f2a6b'
const boxFill = ['#3a3c92', '#64a4bf', '#8e8e8e', '#f5a54b']
const ptColor = ['#22236a', '#57a6c7', '#7c7c7c', '#ea7b22']
const SC_LEFT = [57, 202, 347, 492], SC_W = 139, SC_TOP = [-53, 140], SC_H = 137
const SC_YMIN = [0.15, 0.02], SC_TITLE_Y = [113, 313]
const SV_LEFT = [41, 186, 332, 477], SV_W = 140, SV_TOP = [352, 543], SV_H = 134
const BX = { left: 99, top: 812, width: 469, height: 165 }
const DODGE = 0.22, BOXW = 0.2, JIT = 0.085

const grids = [], xAxes = [], yAxes = [], series = [], gfx = []

function onStep(v, step) {
  const k = v / step
  return Math.abs(k - Math.round(k)) < 1e-6
}

function addGrid(left, top, width, height, border) {
  grids.push({ left, top, width, height, containLabel: false, outerBoundsMode: 'none', show: false })
  gfx.push({ type: 'rect', z: 100, silent: true, shape: { x: left + 0.5, y: top + 0.5, width: width - 1, height: height - 1 },
    style: { fill: 'none', stroke: border || BORDER, lineWidth: 1 } })
  return grids.length - 1
}

function valAxis(gi, min, max, step, o) {
  const show = o.labels !== false
  return {
    type: 'value', gridIndex: gi, min, max, minInterval: step, maxInterval: step, splitNumber: 5,
    offset: o.offset || 0,
    axisLine: { show: false },
    axisTick: { show, length: 3, lineStyle: { color: '#333', width: 1 } },
    axisLabel: {
      show, fontFamily: SERIF, fontSize: o.size || 9, color: '#262626', margin: o.margin || 3,
      formatter: v => o.fmt ? o.fmt(v) : (onStep(v, step) ? v.toFixed(o.dig) : '')
    },
    splitLine: { show: true, lineStyle: { color: o.grid || '#e3e3e3', width: 1 } },
    minorTick: { show: false, splitNumber: 2 },
    minorSplitLine: { show: !o.noMinor, lineStyle: { color: o.minorGrid || '#f0f0f0', width: 0.7 } }
  }
}

function text(x, y, str, o) {
  o = o || {}
  gfx.push({
    type: 'text', x, y, rotation: o.rot || 0, z: 120, silent: true,
    style: {
      text: str, fill: o.color || '#1a1a1a', fontSize: o.size || 10, fontFamily: o.font || SERIF,
      align: o.align || 'center', textAlign: o.align || 'center',
      verticalAlign: 'middle', textVerticalAlign: 'middle', lineHeight: o.lh
    }
  })
}
function rect(x, y, w, h, fill, stroke) {
  gfx.push({ type: 'rect', z: 101, silent: true, shape: { x, y, width: w, height: h },
    style: { fill: fill || 'none', stroke: stroke || null, lineWidth: 1 } })
}
function seg(x1, y1, x2, y2, color, w) {
  gfx.push({ type: 'line', z: 110, silent: true, shape: { x1, y1, x2, y2 }, style: { stroke: color, lineWidth: w || 1 } })
}

// ---------- (a) panels ----------
const scatterPanels = [
  { pts: purityPts, fit: purityFit, xr: [0.04, 1.04], step: 0.25, dig: 2 },
  { pts: bCellPts, fit: bCellFit, xr: [-0.02, 0.52], step: 0.1, dig: 1 },
  { pts: cd8Pts, fit: cd8Fit, xr: [-0.03, 0.65], step: 0.2, dig: 1 },
  { pts: cd4Pts, fit: cd4Fit, xr: [-0.02, 0.53], step: 0.1, dig: 1 },
  { pts: purityPts, fit: purityFit, xr: [0.04, 1.04], step: 0.25, dig: 2 },
  { pts: macroPts, fit: macroFit, xr: [-0.017, 0.45], step: 0.1, dig: 1 },
  { pts: neutroPts, fit: neutroFit, xr: [-0.016, 0.367], step: 0.1, dig: 1 },
  { pts: dcPts, fit: dcFit, xr: [-0.05, 1.30], step: 0.5, dig: 1 }
]

function bandItem(rows) {
  return function (params, api) {
    if (params.dataIndex !== 0) return null
    const up = rows.map(r => api.coord([r[0], r[3]]))
    const lo = rows.slice().reverse().map(r => api.coord([r[0], r[2]]))
    return { type: 'polygon', silent: true, shape: { points: up.concat(lo) }, style: { fill: 'rgba(105,105,105,0.55)' } }
  }
}

scatterPanels.forEach((p, i) => {
  const row = Math.floor(i / 4), col = i % 4
  const gi = addGrid(SC_LEFT[col], SC_TOP[row], SC_W, SC_H)
  const ymin = SC_YMIN[row]
  xAxes.push(valAxis(gi, p.xr[0], p.xr[1], p.step, { dig: p.dig, margin: 7 }))
  yAxes.push(valAxis(gi, ymin, ymin + 10.05, 2.5, {
    labels: col === 0, offset: 16, fmt: v => (onStep(v, 2.5) && v > 1) ? v.toFixed(1) : ''
  }))
  series.push({ type: 'scatter', xAxisIndex: gi, yAxisIndex: gi, data: p.pts, symbolSize: 5.3, silent: true,
    itemStyle: { color: '#000', opacity: 1 } })
  series.push({ type: 'custom', xAxisIndex: gi, yAxisIndex: gi, data: p.fit, renderItem: bandItem(p.fit), silent: true, z: 3 })
  series.push({ type: 'line', xAxisIndex: gi, yAxisIndex: gi, data: p.fit.map(r => [r[0], r[1]]), smooth: 0.35,
    showSymbol: false, silent: true, z: 4, lineStyle: { color: '#1f2f7a', width: 1.7 } })
})

// strips & titles for (a)
SC_TOP.forEach((top, row) => {
  rect(41, top, 15, SC_H, STRIP)
  text(48.5, top + SC_H / 2, 'LUAD', { rot: Math.PI / 2, size: 9.5 })
  text(11, top + SC_H / 2 + 3, 'ANGPTL4 Expression Level (log2 TPM)', { rot: Math.PI / 2, size: 9.5 })
  text(343, SC_TITLE_Y[row], 'Infiltration Level', { size: 9.5 })
})
scatterTitles.forEach((t, c) => {
  rect(SC_LEFT[c], 127, SC_W, 13, STRIP)
  text(SC_LEFT[c] + SC_W / 2, 133.5, t, { size: 9.5 })
  text(SC_LEFT[c] + SC_W - 2, 147, corLines[c][0], { align: 'right', color: '#d42a2a', font: SANS, size: 9 })
  text(SC_LEFT[c] + SC_W - 2, 155, corLines[c][1], { align: 'right', color: '#d42a2a', font: SANS, size: 9 })
})
text(313, 325, '(a)', { size: 9.5 })

// ---------- (b) panels ----------
const survPanels = [
  [bHigh, bLow, bHighCens, bLowCens], [cd8High, cd8Low, cd8HighCens, cd8LowCens],
  [cd4High, cd4Low, cd4HighCens, cd4LowCens], [angHigh, angLow, angHighCens, angLowCens],
  [macroHigh, macroLow, macroHighCens, macroLowCens], [neutroHigh, neutroLow, neutroHighCens, neutroLowCens],
  [dcHigh, dcLow, dcHighCens, dcLowCens], [angHigh, angLow, angHighCens, angLowCens]
]

function survAt(curve, t) {
  let s = curve[0][1]
  for (const p of curve) {
    if (p[0] <= t) s = p[1]
    else break
  }
  return s
}

function plusItem(params, api) {
  const p = api.coord([api.value(0), api.value(1)])
  const h = 3.2
  return { type: 'group', silent: true, children: [
    { type: 'line', shape: { x1: p[0] - h, y1: p[1], x2: p[0] + h, y2: p[1] }, style: { stroke: '#262626', lineWidth: 1 } },
    { type: 'line', shape: { x1: p[0], y1: p[1] - h, x2: p[0], y2: p[1] + h }, style: { stroke: '#262626', lineWidth: 1 } }
  ] }
}

survPanels.forEach((p, i) => {
  const row = Math.floor(i / 4), col = i % 4
  const gi = addGrid(SV_LEFT[col], SV_TOP[row], SV_W, SV_H)
  xAxes.push(valAxis(gi, -12.5, 254, 50, { dig: 0, size: 10, margin: 6 }))
  yAxes.push(valAxis(gi, 0.115, 1.045, 0.25, { dig: 2, size: 10, labels: col === 0, margin: 2 }))
  ;[[p[0], RED], [p[1], NAVY]].forEach(([curve, color]) => {
    series.push({ type: 'line', step: 'end', xAxisIndex: gi, yAxisIndex: gi, data: curve, showSymbol: false,
      silent: true, z: 3, lineStyle: { color, width: 1.1 } })
  })
  ;[[p[0], p[2]], [p[1], p[3]]].forEach(([curve, cens]) => {
    series.push({ type: 'custom', xAxisIndex: gi, yAxisIndex: gi, z: 4, silent: true,
      data: cens.map(t => [t, survAt(curve, t)]), renderItem: plusItem })
  })
  rect(SV_LEFT[col], SV_TOP[row] - 13, SV_W, 13, STRIP)
  text(SV_LEFT[col] + SV_W / 2, SV_TOP[row] - 6.5, survTitles[i], { size: 9.5 })
  text(SV_LEFT[col] + 98, SV_TOP[row] + 11, logRank[i], { size: 9.5 })
})
SV_TOP.forEach(top => {
  rect(617, top, 15, SV_H, STRIP)
  text(624.5, top + SV_H / 2, 'LUAD', { rot: -Math.PI / 2, size: 9.5 })
  text(10, top + SV_H / 2, 'Cumulative Survival', { rot: Math.PI / 2, size: 9.5 })
  text(328, top + SV_H + 29, 'Time to Follow-Up (months)', { size: 9.5 })
})
// legend (b)
text(42, 727, 'Level', { align: 'left', size: 9.5 })
seg(42, 743, 60, 743, RED, 1.2)
text(67, 743, levelNames[0], { align: 'left', size: 9.5 })
seg(42, 759, 60, 759, NAVY, 1.2)
text(67, 759, levelNames[1], { align: 'left', size: 9.5 })
text(313, 781, '(b)', { size: 9.5 })

// ---------- (c) panel ----------
const gb = addGrid(BX.left, BX.top, BX.width, BX.height, '#1a1a1a')
xAxes.push(valAxis(gb, 0.4, 6.6, 1, {
  size: 9.5, margin: 7, noMinor: true, grid: '#d2d2d2',
  fmt: v => (Number.isInteger(v) && v >= 1 && v <= 6) ? cellTypes[v - 1] : ''
}))
yAxes.push(valAxis(gb, -0.07, 1.81, 0.5, {
  size: 9.5, margin: 3, grid: '#d7d7d7', minorGrid: '#e6e6e6',
  fmt: v => { const k = boxYTicks.findIndex(t => Math.abs(t - v) < 1e-6); return k >= 0 ? boxYLabels[k] : '' }
}))

function boxItem(g) {
  return function (params, api) {
    const x = api.value(0) + (g - 1.5) * DODGE
    const c = v => api.coord([x, v])
    const hw = api.size([BOXW / 2, 0])[0]
    const pMin = c(api.value(1)), pQ1 = c(api.value(2)), pMed = c(api.value(3)), pQ3 = c(api.value(4)), pMax = c(api.value(5))
    const cx = pMed[0]
    return { type: 'group', silent: true, children: [
      { type: 'line', shape: { x1: cx, y1: pMax[1], x2: cx, y2: pQ3[1] }, style: { stroke: '#1a1a1a', lineWidth: 1 } },
      { type: 'line', shape: { x1: cx, y1: pQ1[1], x2: cx, y2: pMin[1] }, style: { stroke: '#1a1a1a', lineWidth: 1 } },
      { type: 'rect', shape: { x: cx - hw, y: pQ3[1], width: 2 * hw, height: Math.max(pQ1[1] - pQ3[1], 1) },
        style: { fill: boxFill[g], stroke: '#1a1a1a', lineWidth: 1 } },
      { type: 'line', shape: { x1: cx - hw, y1: pMed[1], x2: cx + hw, y2: pMed[1] }, style: { stroke: '#000', lineWidth: 2 } }
    ] }
  }
}
function dotItem(g) {
  return function (params, api) {
    const x = api.value(0) + (g - 1.5) * DODGE + api.value(1) * JIT
    const p = api.coord([x, api.value(2)])
    return { type: 'circle', silent: true, shape: { cx: p[0], cy: p[1], r: 1.8 }, style: { fill: ptColor[g] } }
  }
}
const boxStats = [deepDelBox, armDelBox, diploidBox, armGainBox]
const boxVals = [deepDelVals, armDelVals, diploidVals, armGainVals]
boxStats.forEach((stats, g) => {
  series.push({ type: 'custom', xAxisIndex: gb, yAxisIndex: gb, z: 3, silent: true,
    data: stats.map((s, c) => [c + 1].concat(s)), renderItem: boxItem(g) })
})
boxVals.forEach((vals, g) => {
  const data = []
  vals.forEach((list, c) => list.forEach((v, k) => data.push([c + 1, jitterDx[(k + g * 7 + c * 3) % jitterDx.length], v])))
  series.push({ type: 'custom', xAxisIndex: gb, yAxisIndex: gb, z: 4, silent: true, data, renderItem: dotItem(g) })
})
const sigData = [], sigText = []
sigMarks.forEach((row, c) => row.forEach((t, g) => { if (t) { sigData.push([c + 1, g]); sigText.push(t) } }))
series.push({
  type: 'custom', xAxisIndex: gb, yAxisIndex: gb, z: 5, silent: true, data: sigData,
  renderItem: (params, api) => {
    const x = api.value(0) + (api.value(1) - 1.5) * DODGE
    const p = api.coord([x, 1.76])
    return { type: 'text', x: p[0], y: p[1], silent: true,
      style: { text: sigText[params.dataIndex].split('').join('\n'), fill: '#000', fontSize: 13, fontFamily: SERIF,
        fontWeight: 'bold', lineHeight: 6, align: 'center', verticalAlign: 'top' } }
  }
})
rect(BX.left + 0.5, 795.5, BX.width - 1, 17, STRIP, '#1a1a1a')
text(BX.left + BX.width / 2, 804, 'LUAD', { size: 10 })
text(67, 893, 'Infiltration Level', { rot: Math.PI / 2, size: 9.5 })
// legend (c)
text(100, 1015, 'Copy Number', { align: 'left', size: 9.5 })
cnvGroups.forEach((name, g) => {
  const kx = g < 2 ? 104 : 351
  const ky = g % 2 === 0 ? 1034 : 1052
  seg(kx, ky - 6, kx, ky + 6, '#1a1a1a', 1)
  gfx.push({ type: 'rect', z: 111, silent: true, shape: { x: kx - 4.5, y: ky - 4, width: 9, height: 8 },
    style: { fill: boxFill[g], stroke: '#1a1a1a', lineWidth: 1 } })
  seg(kx - 4.5, ky, kx + 4.5, ky, '#000', 1.5)
  text(kx + 11, ky, name, { align: 'left', size: 9.5 })
})
text(313, 1073, '(c)', { size: 9.5 })

const chart = echarts.init(document.getElementById('chart'), null, { renderer: 'canvas' })
chart.setOption({
  animation: false,
  backgroundColor: '#fff',
  grid: grids,
  xAxis: xAxes,
  yAxis: yAxes,
  series,
  graphic: { elements: gfx }
})
</script>
</body>
</html>
